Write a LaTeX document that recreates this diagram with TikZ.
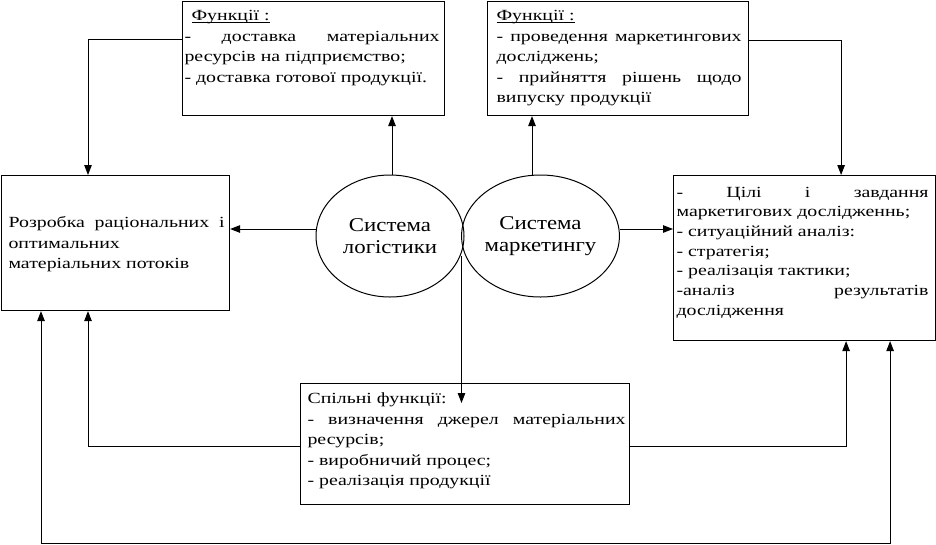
\documentclass[tikz,border=0pt]{standalone}
\usepackage{fontspec}
\setmainfont{Liberation Serif}[FakeStretch=1.28]
\newfontfamily\ellfont{Liberation Serif}[FakeStretch=1.17]
\usetikzlibrary{arrows.meta,shapes.geometric}
\newcommand\jl[1]{\makebox[\linewidth][s]{#1}}
\newcommand\ulin[1]{\setbox0\hbox{#1}\rlap{\rule[-2pt]{\wd0}{0.8pt}}\box0}
% #1 box width, #2 left offset, #3 text width, #4 box height, #5 first baseline offset, #6 content
\newcommand\boxtxt[6]{\makebox[#1][l]{\hspace*{#2}\parbox[c][#4][t]{#3}{\rule{0pt}{#5}#6}}}
\tikzset{
  txtbox/.style={draw, line width=1.1pt, inner sep=0pt, anchor=north west,
    font=\fontsize{15.5}{20.5}\selectfont},
  ell/.style={draw, ellipse, line width=1pt, inner sep=0pt, align=center,
    minimum height=122pt, font=\ellfont\fontsize{19.5}{21.5}\selectfont},
  arr/.style={line width=1pt, -{Triangle[width=7.5pt,length=10pt]}},
  darr/.style={line width=1pt, {Triangle[width=7.5pt,length=10pt]}-{Triangle[width=7.5pt,length=10pt]}}
}
\begin{document}
\begin{tikzpicture}[x=1pt,y=-1pt]
\useasboundingbox (0,0) rectangle (936,544);
\fill[white] (0,0) rectangle (936,544);

\node[txtbox] (tl) at (182,1) {\boxtxt{262pt}{2pt}{255pt}{114pt}{19pt}{\hspace*{7pt}\ulin{Функції :}\\
\jl{- доставка матеріальних}\\
ресурсів на підприємство;\\
- доставка готової продукції.}};

\node[txtbox] (tr) at (487,1) {\boxtxt{261pt}{9pt}{245pt}{114pt}{19pt}{\ulin{Функції :}\\
\jl{- проведення маркетингових}\\
досліджень;\\
\jl{- прийняття рішень щодо}\\
випуску продукції}};

\node[txtbox] (lb) at (1,175) {\boxtxt{228pt}{7pt}{216pt}{135pt}{52pt}{\jl{Розробка раціональних і}\\
оптимальних\\
матеріальних потоків}};

\node[txtbox, font=\fontsize{15.5}{19.7}\selectfont] (rb) at (673,175) {\boxtxt{262pt}{3pt}{252pt}{165pt}{21.5pt}{\jl{- Цілі і завдання}\\
маркетигових дослідженнь;\\
- ситуаційний аналіз:\\
- стратегія;\\
- реалізація тактики;\\
\jl{-аналіз результатів}\\
дослідження}};

\node[txtbox] (bb) at (300,383) {\boxtxt{329pt}{7pt}{318pt}{121pt}{20pt}{Спільні функції:\\
\jl{- визначення джерел матеріальних}\\
ресурсів;\\
- виробничий процес;\\
- реалізація продукції}};

\node[ell, minimum width=148pt] (le) at (390,236) {Система\\логістики};
\node[ell, minimum width=153pt] (re) at (540.5,236) {Система\\маркетингу};

\draw[arr] ([yshift=-38pt]tl.north west) -| ([xshift=87pt]lb.north west);
\draw[arr] ([yshift=-39pt]tr.north east) -| ([xshift=-95pt]rb.north east);
\draw[arr] ([xshift=2pt]le.north) -- ([xshift=2pt]le.north |- tl.south);
\draw[arr] ([xshift=-8.5pt]re.north) -- ([xshift=-8.5pt]re.north |- tr.south);
\draw[arr] ([yshift=7pt]le.west) -- ([yshift=7pt]le.west -| lb.east);
\draw[arr] ([yshift=7pt]re.east) -- ([yshift=7pt]re.east -| rb.west);
\draw[arr] ([xshift=-3pt,yshift=-20pt]le.east) -- ([xshift=-3pt,yshift=-20pt]le.east |- bb.north);
\draw[arr] ([yshift=-63pt]bb.north west) -| ([xshift=87pt]lb.south west);
\draw[arr] ([yshift=-63pt]bb.north east) -| ([xshift=-90pt]rb.south east);
\coordinate (low) at (0,543);
\draw[darr] ([xshift=40pt]lb.south west) -- ([xshift=40pt]lb.south west |- low) -| ([xshift=-46pt]rb.south east);
\end{tikzpicture}
\end{document}
